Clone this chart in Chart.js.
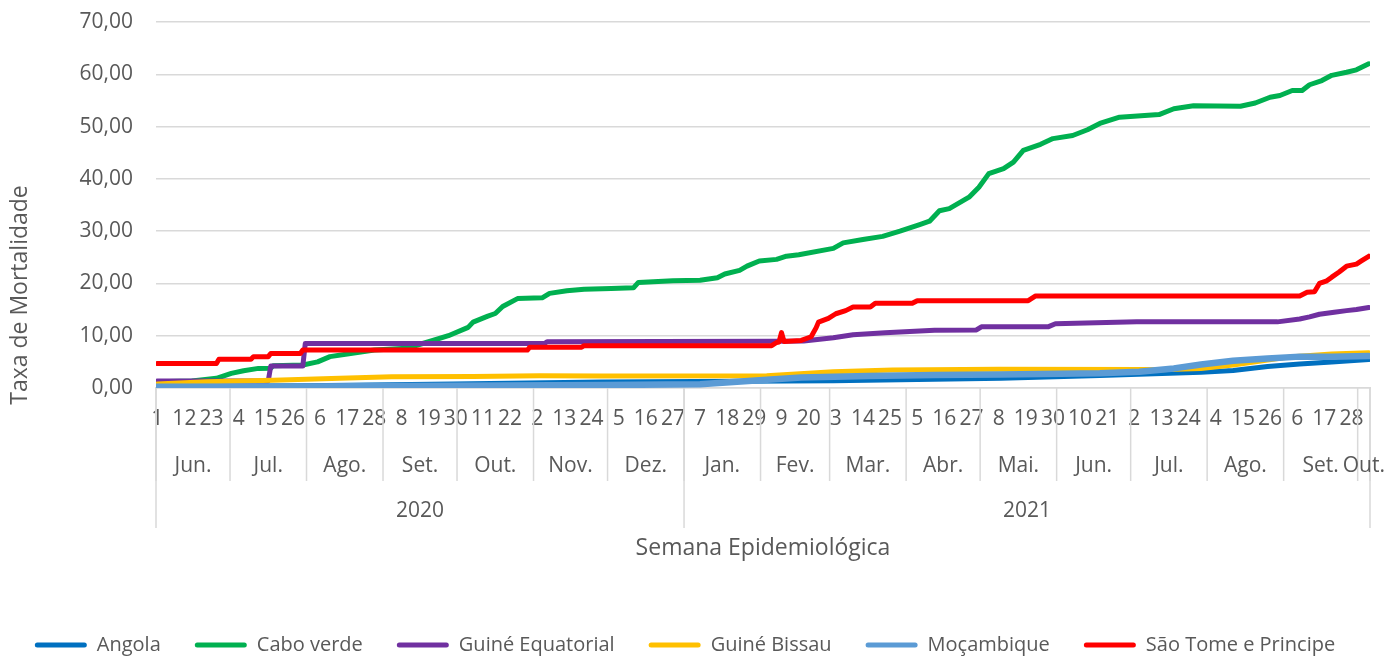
<!DOCTYPE html>
<html>
<head>
<meta charset="utf-8">
<script src="https://cdn.jsdelivr.net/npm/chart.js@4"></script>
<style>
  html, body { margin: 0; padding: 0; background: #fff; overflow: hidden; }
  #wrap { width: 1385px; height: 658px; }
</style>
</head>
<body>
<div id="wrap"><canvas id="chart" width="1385" height="658"></canvas></div>
<script>
// day index 0 = 1 Jun 2020, last = 5 Oct 2021
const lastDay = 491;

// x-axis: day-of-month labels every 11 days
const dayTickIndex = [0, 11, 22, 33, 44, 55, 66, 77, 88, 99, 110, 121, 132, 143, 154, 165, 176, 187, 198, 209, 220, 231, 242, 253, 264, 275, 286, 297, 308, 319, 330, 341, 352, 363, 374, 385, 396, 407, 418, 429, 440, 451, 462, 473, 484];
const dayTickLabels = ["1", "12", "23", "4", "15", "26", "6", "17", "28", "8", "19", "30", "11", "22", "2", "13", "24", "5", "16", "27", "7", "18", "29", "9", "20", "3", "14", "25", "5", "16", "27", "8", "19", "30", "10", "21", "2", "13", "24", "4", "15", "26", "6", "17", "28"];

const monthStarts = [0, 30, 61, 92, 122, 153, 183, 214, 245, 273, 304, 334, 365, 395, 426, 457, 487];
const monthLabels = ["Jun.", "Jul.", "Ago.", "Set.", "Out.", "Nov.", "Dez.", "Jan.", "Fev.", "Mar.", "Abr.", "Mai.", "Jun.", "Jul.", "Ago.", "Set.", "Out."];

const yearStarts = [0, 214];
const yearLabels = ["2020", "2021"];

const seriesNames = ["Angola", "Cabo verde", "Guiné Equatorial", "Guiné Bissau", "Moçambique", "São Tome e Principe"];
const seriesColors = ["#0070C0", "#00B050", "#7030A0", "#FFC000", "#5B9BD5", "#FF0000"];

// values (day index, mortality rate)
const angolaX = [0, 60, 120, 180, 274, 342, 382, 423, 436, 450, 463, 476, 491];
const angolaY = [0.3, 0.45, 0.75, 1.15, 1.4, 1.85, 2.4, 3.0, 3.35, 4.1, 4.6, 4.95, 5.45];

const caboVerdeX = [0, 14, 24, 30, 35, 41, 46, 47, 59, 65, 70, 77, 88, 101, 110, 118, 126, 128, 134, 137, 140, 146, 156, 159, 166, 173, 184, 193, 195, 201, 209, 220, 227, 230, 236, 239, 244, 251, 255, 260, 274, 278, 286, 294, 301, 309, 313, 317, 321, 329, 333, 337, 343, 347, 351, 358, 363, 371, 377, 382, 390, 406, 412, 420, 439, 445, 451, 455, 460, 464, 467, 472, 476, 482, 486, 491];
const caboVerdeY = [1.2, 1.35, 1.85, 2.8, 3.3, 3.75, 3.8, 4.25, 4.4, 5.0, 6.0, 6.5, 7.25, 7.6, 8.85, 10.0, 11.6, 12.6, 13.75, 14.25, 15.6, 17.1, 17.25, 18.1, 18.6, 18.9, 19.05, 19.15, 20.2, 20.3, 20.5, 20.6, 21.1, 21.8, 22.5, 23.3, 24.3, 24.6, 25.2, 25.5, 26.7, 27.75, 28.4, 29.0, 30.0, 31.25, 31.9, 33.9, 34.3, 36.5, 38.4, 41.0, 41.95, 43.2, 45.45, 46.6, 47.7, 48.3, 49.4, 50.6, 51.8, 52.3, 53.4, 54.0, 53.9, 54.5, 55.6, 55.95, 56.9, 56.9, 58.0, 58.8, 59.8, 60.4, 60.85, 62.0];

const guineEqX = [0, 45, 46, 59, 60, 157, 158, 250, 262, 274, 282, 295, 315, 332, 334, 361, 364, 397, 454, 463, 467, 471, 477, 482, 486, 491];
const guineEqY = [1.35, 1.35, 4.2, 4.2, 8.5, 8.5, 8.85, 8.95, 9.0, 9.6, 10.2, 10.55, 11.05, 11.1, 11.7, 11.7, 12.3, 12.65, 12.65, 13.2, 13.6, 14.1, 14.5, 14.8, 15.0, 15.4];

const guineBissauX = [0, 20, 47, 74, 95, 128, 155, 180, 247, 274, 298, 341, 400, 406, 423, 436, 450, 460, 476, 491];
const guineBissauY = [0.75, 1.2, 1.5, 1.85, 2.15, 2.2, 2.35, 2.3, 2.35, 3.1, 3.45, 3.6, 3.55, 3.5, 3.75, 4.4, 5.35, 6.0, 6.5, 6.75];

const mocambiqueX = [0, 60, 120, 180, 220, 244, 261, 288, 315, 342, 382, 398, 412, 423, 436, 450, 463, 476, 491];
const mocambiqueY = [0.25, 0.3, 0.45, 0.57, 0.7, 1.5, 2.0, 2.3, 2.5, 2.6, 2.8, 3.1, 3.75, 4.5, 5.2, 5.65, 6.0, 6.0, 6.1];

const saoTomeX = [0, 24, 25, 38, 39, 45, 46, 58, 59, 150, 151, 172, 173, 249, 251, 252, 253, 254, 261, 265, 267, 268, 272, 275, 279, 282, 289, 291, 306, 308, 353, 356, 463, 466, 469, 471, 474, 476, 479, 482, 486, 488, 491];
const saoTomeY = [4.7, 4.7, 5.5, 5.5, 6.0, 6.0, 6.6, 6.6, 7.25, 7.25, 7.8, 7.8, 8.1, 8.1, 8.7, 8.8, 10.6, 8.9, 9.1, 9.8, 11.5, 12.6, 13.3, 14.2, 14.8, 15.5, 15.5, 16.2, 16.2, 16.7, 16.7, 17.6, 17.6, 18.3, 18.4, 20.0, 20.5, 21.2, 22.2, 23.3, 23.7, 24.3, 25.2];

const seriesX = [angolaX, caboVerdeX, guineEqX, guineBissauX, mocambiqueX, saoTomeX];
const seriesY = [angolaY, caboVerdeY, guineEqY, guineBissauY, mocambiqueY, saoTomeY];

const textColor = "#595959";
const gridColor = "#d9d9d9";
Chart.defaults.font.family = "'Open Sans', sans-serif";
Chart.defaults.color = textColor;

// month / year rows under the day labels, plus the rotated y title
const multiLevelAxis = {
  id: "multiLevelAxis",
  afterDraw(chart) {
    const { ctx, chartArea } = chart;
    const x = chart.scales.x;
    const bottom = chartArea.bottom;
    const monthEdges = monthStarts.concat([lastDay + 1]);
    const yearEdges = yearStarts.concat([lastDay + 1]);

    ctx.save();
    ctx.strokeStyle = gridColor;
    ctx.lineWidth = 1.5;
    monthEdges.forEach((d) => {
      const px = x.getPixelForValue(d - 0.5);
      ctx.beginPath();
      ctx.moveTo(px, bottom);
      ctx.lineTo(px, bottom + 93);
      ctx.stroke();
    });
    yearEdges.forEach((d) => {
      const px = x.getPixelForValue(d - 0.5);
      ctx.beginPath();
      ctx.moveTo(px, bottom);
      ctx.lineTo(px, bottom + 140);
      ctx.stroke();
    });

    ctx.fillStyle = textColor;
    ctx.textAlign = "center";
    ctx.textBaseline = "middle";
    ctx.font = "21px 'Open Sans'";
    monthLabels.forEach((m, i) => {
      const a = x.getPixelForValue(monthEdges[i] - 0.5);
      const b = x.getPixelForValue(monthEdges[i + 1] - 0.5);
      ctx.fillText(m, (a + b) / 2, bottom + 78);
    });
    yearLabels.forEach((yl, i) => {
      const a = x.getPixelForValue(yearEdges[i] - 0.5);
      const b = x.getPixelForValue(yearEdges[i + 1] - 0.5);
      ctx.fillText(yl, (a + b) / 2, bottom + 123);
    });

    ctx.font = "23px 'Open Sans'";
    ctx.translate(chartArea.left - 136, bottom - 93);
    ctx.rotate(-Math.PI / 2);
    ctx.fillText("Taxa de Mortalidade", 0, 0);
    ctx.restore();
  },
};

const datasets = seriesNames.map((name, i) => ({
  label: name,
  data: seriesX[i].map((d, j) => ({ x: d, y: seriesY[i][j] })),
  borderColor: seriesColors[i],
  backgroundColor: seriesColors[i],
  borderWidth: i === 4 ? 6.5 : 5,
  borderCapStyle: "round",
  borderJoinStyle: "round",
  pointRadius: 0,
  tension: 0,
  order: seriesNames.length - i,
}));

new Chart(document.getElementById("chart"), {
  type: "line",
  data: { datasets: datasets },
  options: {
    responsive: false,
    animation: false,
    layout: { padding: { top: 22, right: 15, bottom: -7, left: 0 } },
    plugins: {
      legend: {
        position: "bottom",
        labels: {
          boxWidth: 52,
          boxHeight: 5,
          padding: 34,
          color: textColor,
          font: { size: 20 },
          useBorderRadius: true,
          borderRadius: 2.5,
          generateLabels: (chart) =>
            Chart.defaults.plugins.legend.labels
              .generateLabels(chart)
              .map((l) => Object.assign(l, { lineWidth: 0 })),
          sort: (a, b) => a.datasetIndex - b.datasetIndex,
        },
      },
      tooltip: { enabled: false },
    },
    scales: {
      x: {
        type: "linear",
        min: -0.5,
        max: lastDay + 0.5,
        grid: { display: false, drawTicks: false },
        border: { color: gridColor, width: 1.5 },
        afterBuildTicks: (scale) => {
          scale.ticks = dayTickIndex.map((v) => ({ value: v }));
        },
        afterFit: (scale) => {
          scale.height = 213;
        },
        ticks: {
          autoSkip: false,
          maxRotation: 0,
          padding: 18,
          font: { size: 21 },
          color: textColor,
          callback: (v, i) => dayTickLabels[i],
        },
        title: {
          display: true,
          text: "Semana Epidemiológica",
          font: { size: 23 },
          color: textColor,
          padding: { top: 0, bottom: 39 },
        },
      },
      y: {
        min: 0,
        max: 70,
        grid: {
          color: gridColor,
          lineWidth: 1.5,
          drawTicks: true,
          tickLength: 14,
          tickColor: "rgba(0,0,0,0)",
        },
        border: { display: false },
        afterFit: (scale) => {
          scale.width = 156;
        },
        ticks: {
          stepSize: 10,
          padding: 9,
          font: { size: 21 },
          color: textColor,
          callback: (v) => v.toFixed(2).replace(".", ","),
        },
      },
    },
  },
  plugins: [multiLevelAxis],
});
</script>
</body>
</html>
